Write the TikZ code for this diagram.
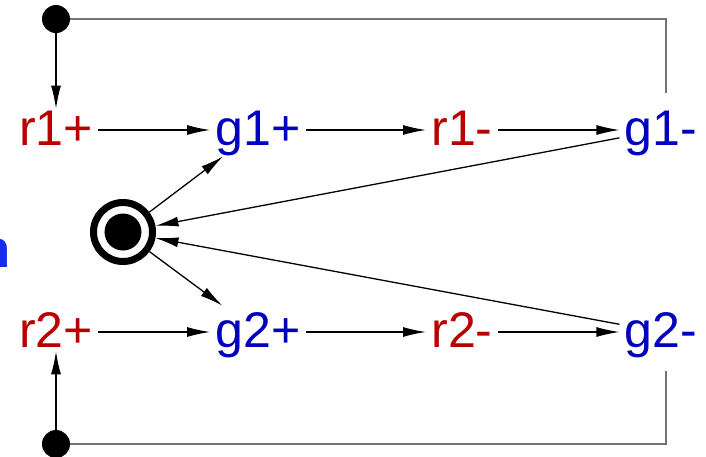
\documentclass[tikz,border=0pt]{standalone}
\usepackage{fontspec}
\setmainfont{Liberation Sans}
\usetikzlibrary{arrows.meta,positioning,calc}
\definecolor{piros}{RGB}{185,0,0}
\definecolor{kek}{RGB}{0,0,190}
\definecolor{cimkek}{RGB}{20,45,240}
\tikzset{
  jel/.style={inner sep=1mm,text height=7.2mm,text depth=1.2mm,anchor=base,
              font=\fontsize{28.5}{32}\selectfont},
  rjel/.style={jel,text=piros},
  gjel/.style={jel,text=kek},
  pont/.style={circle,fill,inner sep=0pt,minimum size=5.6mm},
  kor/.style={circle,draw,line width=1.4mm,inner sep=0pt,minimum size=11.8mm},
  mag/.style={circle,fill,inner sep=0pt,minimum size=7.4mm},
  nyil/.style={-{Latex[length=4.6mm,width=2mm]},line width=0.26mm},
  vonal/.style={line width=0.4mm,draw=black!55},
  cim/.style={inner sep=0pt,text=cimkek,font=\bfseries\fontsize{30}{34}\selectfont},
}
\begin{document}
\begin{tikzpicture}[x=0.2mm,y=-0.2mm]
  \useasboundingbox (0,0) rectangle (706,456);
  \node[cim,anchor=base east] (cim) at (11.5,267) {n};
  % felso sor
  \node[rjel] (r1p) at (56,145) {r1+};
  \node[gjel] (g1p) at (258,145) {g1+};
  \node[rjel] (r1m) at (462,145) {r1-};
  \node[gjel] (g1m) at (661,145) {g1-};
  % also sor
  \node[rjel] (r2p) at (56,347) {r2+};
  \node[gjel] (g2p) at (258,347) {g2+};
  \node[rjel] (r2m) at (462,347) {r2-};
  \node[gjel] (g2m) at (661,347) {g2-};
  \node[pont] (fent) at (56,19) {};
  \node[pont] (lent) at (56,444) {};
  \node[kor] (kor) at (123,232) {};
  \node[mag] (kormag) at (kor) {};
  \draw[nyil] (r1p) -- (g1p); \draw[nyil] (g1p) -- (r1m); \draw[nyil] (r1m) -- (g1m);
  \draw[nyil] (r2p) -- (g2p); \draw[nyil] (g2p) -- (r2m); \draw[nyil] (r2m) -- (g2m);
  \draw[nyil] (kor) -- (g1p); \draw[nyil] (kor) -- (g2p);
  \draw[nyil] (g1m) -- (kor); \draw[nyil] (g2m) -- (kor);
  \draw[nyil,shorten >=-1mm] (fent) -- (r1p);
  \draw[nyil,shorten >=-1.4mm] (lent) -- (r2p);
  \draw[vonal,shorten >=2.2mm] (fent) -| ([xshift=1mm]g1m.north);
  \draw[vonal,shorten >=2.6mm] (lent) -| ([xshift=1mm]g2m.south);
\end{tikzpicture}
\end{document}
